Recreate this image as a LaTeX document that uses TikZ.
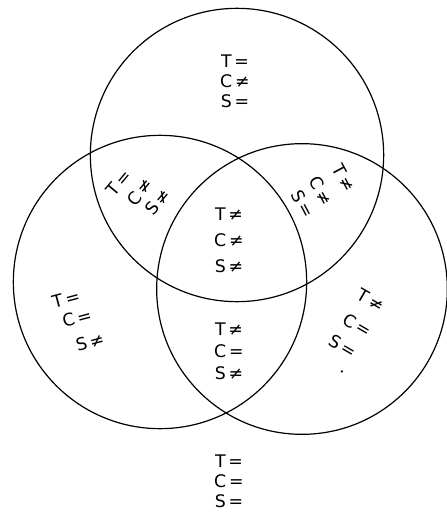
\documentclass[tikz,border=0pt]{standalone}
\usepackage{fontspec}
\setmainfont{DejaVu Sans}

\begin{document}
\begin{tikzpicture}[x=0.75pt, y=-0.75pt, line width=0.9pt,
    lbl/.style={align=center, inner sep=0pt, font=\fontsize{13}{15}\selectfont},
    wide/.style={font=\fontsize{13}{#1}\selectfont}]
    \useasboundingbox (0,0) rectangle (446,520);

    % centres
    \coordinate (ctop) at (237,155);
    \coordinate (clft) at (160,282);
    \coordinate (crgt) at (302,289);

    % circles
    \draw (ctop) circle (110pt);
    \draw (clft) circle (110pt);
    \draw (crgt) circle (109pt);

    % straight regions
    \node[lbl] (ltop) at (235,81) {T\,=\\C\,≠\\S\,=};
    \node[lbl, wide=19.5pt] (lall) at (229,240) {T\,≠\\C\,≠\\S\,≠};
    \node[lbl, wide=16.5pt] (lbot) at (229,351) {T\,≠\\C\,=\\S\,≠};
    \node[lbl] (lout) at (229,481) {T\,=\\C\,=\\S\,=};

    % slanted regions, one line at a time
    \node[lbl, rotate=50] (tl1) at (119,183) {T\,=};
    \node[lbl, rotate=50] (tl2) at (140,192) {C\,≠};
    \node[lbl, rotate=50] (tl3) at (158,202) {S\,≠};

    \node[lbl, rotate=-62] (tr1) at (344,178) {T\,≠};
    \node[lbl, rotate=-62] (tr2) at (321,191) {C\,≠};
    \node[lbl, rotate=-62] (tr3) at (303,204) {S\,=};

    \node[lbl, rotate=15] (lf1) at (66,299) {T\,=};
    \node[lbl, rotate=15] (lf2) at (77,318) {C\,=};
    \node[lbl, rotate=15] (lf3) at (90,342) {S\,≠};

    \node[lbl, rotate=-30] (rt1) at (371,300) {T\,≠};
    \node[lbl, rotate=-30] (rt2) at (357,325) {C\,=};
    \node[lbl, rotate=-30] (rt3) at (343,346) {S\,=};
    \node[lbl, rotate=-30] (rt4) at (342,372) {.};
\end{tikzpicture}
\end{document}
